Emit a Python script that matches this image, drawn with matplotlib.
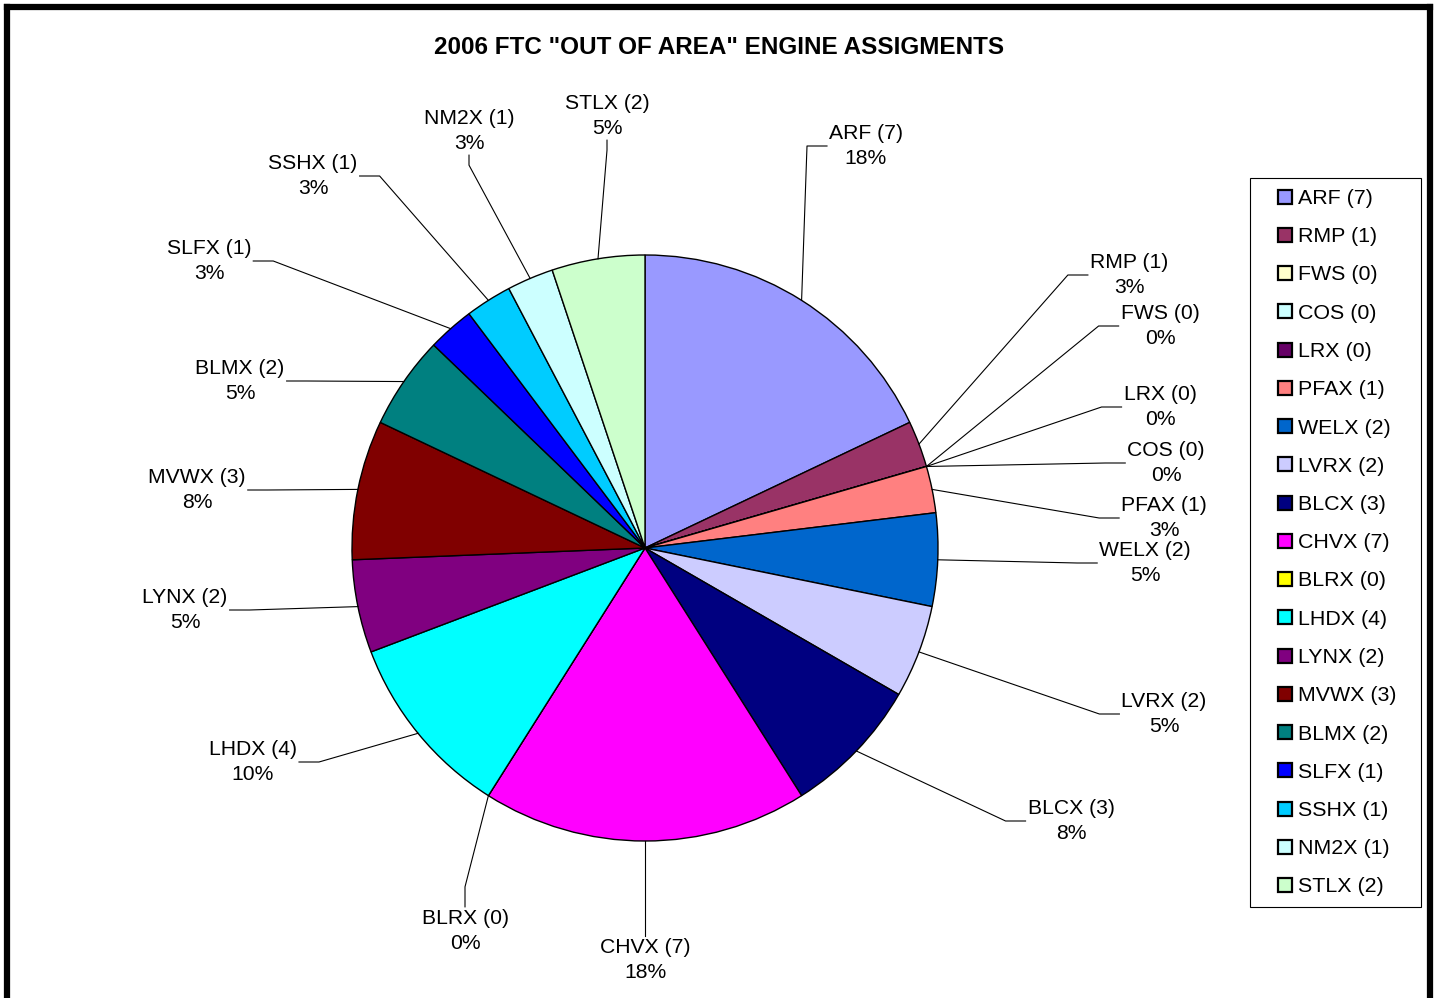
import matplotlib
matplotlib.use("Agg")
import matplotlib.pyplot as plt
from matplotlib.lines import Line2D
from matplotlib.patches import Rectangle
import numpy as np

# ==========================================
# DATOS
# ==========================================
categorias = ["ARF", "RMP", "FWS", "COS", "LRX", "PFAX", "WELX", "LVRX", "BLCX",
              "CHVX", "BLRX", "LHDX", "LYNX", "MVWX", "BLMX", "SLFX", "SSHX",
              "NM2X", "STLX"]
valores = [7, 1, 0, 0, 0, 1, 2, 2, 3, 7, 0, 4, 2, 3, 2, 1, 1, 1, 2]
colores = ["#9999FF", "#993366", "#FFFFCC", "#CCFFFF", "#660066", "#FF8080",
           "#0066CC", "#CCCCFF", "#000080", "#FF00FF", "#FFFF00", "#00FFFF",
           "#800080", "#800000", "#008080", "#0000FF", "#00CCFF", "#CCFFFF",
           "#CCFFCC"]
titulo = '2006 FTC "OUT OF AREA" ENGINE ASSIGMENTS'

# posicion de cada etiqueta (px imagen, centro del texto) y lado de la guia
pos_etiquetas = {
    "ARF": (866, 146, "l"), "RMP": (1129, 275, "l"), "FWS": (1160, 326, "l"),
    "LRX": (1160, 407, "l"), "COS": (1166, 463, "l"), "PFAX": (1164, 518, "l"),
    "WELX": (1145, 563, "l"), "LVRX": (1164, 714, "l"), "BLCX": (1071, 821, "l"),
    "CHVX": (645, 960, "t"), "BLRX": (465, 931, "t"), "LHDX": (253, 762, "r"),
    "LYNX": (185, 610, "r"), "MVWX": (197, 490, "r"), "BLMX": (240, 381, "r"),
    "SLFX": (209, 261, "r"), "SSHX": (313, 176, "r"), "NM2X": (469, 131, "b"),
    "STLX": (607, 116, "b"),
}

W, H = 1435, 998
CX, CY, R = 645, 548, 293
FUENTE = ["Liberation Sans", "DejaVu Sans"]


def py(y):
    # de coordenada de imagen a coordenada de datos
    return H - y


fig = plt.figure(figsize=(W / 100, H / 100), dpi=100)
ax = fig.add_axes([0, 0, 1, 1])
ax.set_xlim(0, W); ax.set_ylim(0, H); ax.axis("off")

total = sum(valores)
wedges, _ = ax.pie(valores, colors=colores, startangle=90, counterclock=False,
                   center=(CX, py(CY)), radius=R, normalize=True,
                   wedgeprops=dict(edgecolor="black", linewidth=1.0))
ax.set_xlim(0, W); ax.set_ylim(0, H)

# --- etiquetas con lineas guia ---
textos = []
for nombre, v in zip(categorias, valores):
    tx, ty, lado = pos_etiquetas[nombre]
    pct = int(round(100 * v / total))
    t = ax.text(tx, py(ty), f"{nombre} ({v})\n{pct}%", ha="center", va="center",
                fontsize=15.2, family=FUENTE, linespacing=1.42)
    textos.append(t)

fig.canvas.draw()
renderer = fig.canvas.get_renderer()
inv = ax.transData.inverted()
acum = 0
for nombre, v, t in zip(categorias, valores, textos):
    _, _, lado = pos_etiquetas[nombre]
    medio = acum + v / 2
    acum += v
    ang = np.deg2rad(90 - 360 * medio / total)
    x0 = CX + R * np.cos(ang)
    y0 = py(CY) + R * np.sin(ang)
    bb = t.get_window_extent(renderer)
    (bx0, by0), (bx1, by1) = inv.transform([(bb.x0, bb.y0), (bb.x1, bb.y1)])
    ymid = (by0 + by1) / 2
    xmid = (bx0 + bx1) / 2
    if lado == "l":
        p2, p1 = (bx0 - 2, ymid), (bx0 - 22, ymid)
    elif lado == "r":
        p2, p1 = (bx1 + 2, ymid), (bx1 + 22, ymid)
    elif lado == "t":
        p2, p1 = (xmid, by1 + 2), (xmid, by1 + 22)
    else:
        p2, p1 = (xmid, by0 - 2), (xmid, by0 - 12)
    ax.add_line(Line2D([x0, p1[0], p2[0]], [y0, p1[1], p2[1]],
                       color="black", lw=0.8))

# --- leyenda ---
marcadores = [Line2D([], [], ls="none", marker="s", markersize=10,
                     markerfacecolor=c, markeredgecolor="black", markeredgewidth=1.6)
              for c in colores]
leg = ax.legend(marcadores, [f"{n} ({v})" for n, v in zip(categorias, valores)],
                loc="upper left", bbox_to_anchor=(1274 / W, 1 - 189 / H),
                bbox_transform=fig.transFigure, frameon=False,
                prop=dict(family=FUENTE, size=15.4), handlelength=1.0,
                handletextpad=0.1, labelspacing=0.9, borderpad=0,
                borderaxespad=0)
fig.add_artist(Rectangle((1250 / W, 1 - 907 / H), 171 / W, 729 / H,
                         transform=fig.transFigure, fill=False,
                         edgecolor="black", lw=0.8))

# --- titulo ---
fig.text(719 / W, 1 - 47 / H, titulo, ha="center", va="center", fontsize=17.5,
         fontweight="bold", family=FUENTE)

# --- marco exterior ---
marco = dict(color="black", lw=4.5, solid_capstyle="projecting")
fig.add_artist(Line2D([7 / W, 7 / W], [0, 1 - 7 / H], transform=fig.transFigure, **marco))
fig.add_artist(Line2D([7 / W, 1430 / W], [1 - 7 / H, 1 - 7 / H], transform=fig.transFigure, **marco))
fig.add_artist(Line2D([1430 / W, 1430 / W], [0, 1 - 7 / H], transform=fig.transFigure, **marco))

fig.savefig("out.png", dpi=100, facecolor="white")
